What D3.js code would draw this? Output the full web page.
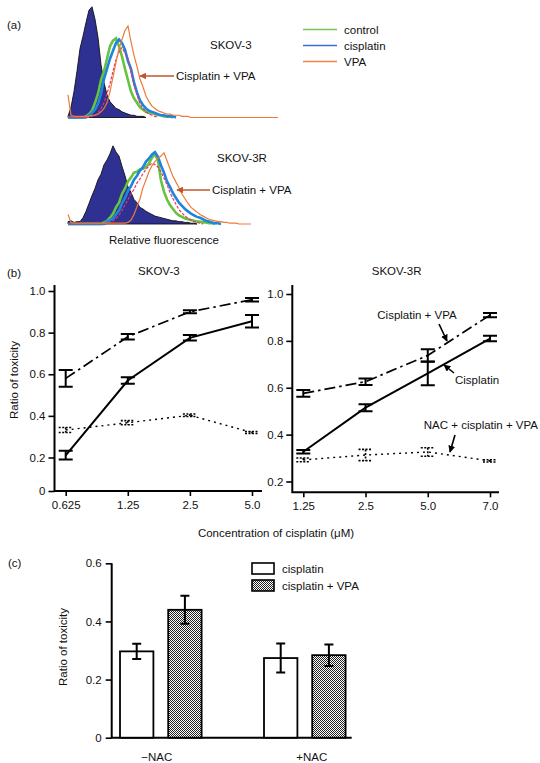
<!DOCTYPE html>
<html><head><meta charset="utf-8">
<script src="https://cdn.jsdelivr.net/npm/d3@7"></script>
<style>
body{margin:0;background:#fff}
svg{display:block}
text{font-family:"Liberation Sans",Arial,sans-serif;font-size:11.5px;fill:#111}
</style>
</head><body>
<svg id="fig" width="540" height="763"></svg>
<script>
// ---------------- DATA ----------------
// (a) flow cytometry histograms: counts per fluorescence channel (relative units)
const histTopUnstained = [1,9,23,41,61,72,84,95,98,87,71,47,31,20,14,11,8,7,5,4,3,2,2,1,1,1,0];
const histTopControl   = [0,0,0,0,0,0,1,3,6,13,21,33,41,52,63,68,70,63,54,43,33,23,17,13,9,7,5,4,4,3,2,2,1,1,1,0];
const histTopCisplatin = [0,0,0,0,0,0,0,2,4,7,12,21,34,43,52,59,66,69,66,60,50,43,31,22,15,11,8,6,5,4,3,2,2,1,1,1,0];
const histTopCisVPA    = [0,0,0,0,0,0,0,0,1,2,4,8,13,21,30,41,51,58,62,57,52,40,29,20,12,8,5,3,2,1,0];
const histTopVPA       = [20,2,1,1,1,1,1,1,2,2,3,5,8,13,23,36,49,61,69,77,81,67,55,45,34,27,19,14,10,8,6,5,4,3,3,2,2,2,1,1,1,
                          0,0,0,0,0,0,0,0,0,0,0,0,0,0,0,0,0,0,0,0,0,0,0,0,0,0,0,0,0,0];
const histBotUnstained = [3,4,2,3,3,8,16,26,36,45,56,63,75,81,89,99,91,86,73,61,47,40,31,27,21,19,16,14,12,10,9,8,7,6,5,4,4,3,3,2,2,1,1,0];
const histBotControl   = [0,0,0,0,0,0,0,0,0,0,0,0,2,4,8,13,21,27,38,45,54,59,65,66,69,70,72,77,84,89,80,55,41,31,24,19,14,11,9,7,6,5,4,3,3,2,2,1,1,0];
const histBotCisplatin = [0,0,0,0,0,0,0,0,0,0,0,0,0,3,5,7,12,17,26,33,42,48,56,61,68,72,79,83,88,91,85,74,65,54,47,39,33,27,23,19,16,13,11,9,8,6,4,3,2,1,1,0];
const histBotCisVPA    = [0,0,0,0,0,0,0,0,0,0,0,0,0,0,2,4,7,11,17,24,31,38,44,52,57,64,69,74,77,75,72,66,58,50,40,32,25,18,14,10,7,5,3,2,1,0];
const histBotVPA       = [12,2,1,1,1,1,1,1,1,1,1,1,1,1,1,1,1,1,1,1,2,5,12,22,32,46,56,66,74,79,83,86,90,80,70,60,53,46,38,32,26,21,18,15,12,10,8,6,5,4,3,3,2,2,1,1,1,0,0,0,0,0];
const legendA = ["control","cisplatin","VPA"];

// (b) ratio of toxicity vs cisplatin concentration
const concSKOV3  = ["0.625","1.25","2.5","5.0"];
const concSKOV3R = ["1.25","2.5","5.0","7.0"];
const s3Cis      = [0.21,0.57,0.775,0.855];
const s3CisErr   = [0.022,0.016,0.013,0.03];
const s3CisVPA   = [0.58,0.78,0.90,0.958];
const s3CisVPAErr= [0.04,0.013,0.007,0.008];
const s3NAC      = [0.332,0.367,0.403,0.32];
const s3NACErr   = [0.012,0.01,0.006,0.005];
const s3rCis      = [0.327,0.515,0.661,0.81];
const s3rCisErr   = [0.007,0.015,0.05,0.012];
const s3rCisVPA   = [0.576,0.626,0.738,0.91];
const s3rCisVPAErr= [0.014,0.014,0.026,0.009];
const s3rNAC      = [0.292,0.313,0.326,0.288];
const s3rNACErr   = [0.008,0.024,0.018,0.005];
const ticksB = [0,0.2,0.4,0.6,0.8,1.0];

// (c) bars
const groupsC = ["\u2212NAC","+NAC"];
const seriesC = ["cisplatin","cisplatin + VPA"];
const barCis    = [0.297,0.274];
const barCisErr = [0.026,0.05];
const barVPA    = [0.44,0.284];
const barVPAErr = [0.048,0.037];
const ticksC = [0,0.2,0.4,0.6];

// ---------------- DRAW ----------------
const svg = d3.select("#fig");
const defs = svg.append("defs");
function arrowMarker(id,color){
  defs.append("marker").attr("id",id).attr("viewBox","0 0 10 10").attr("refX",9).attr("refY",5)
    .attr("markerWidth",7).attr("markerHeight",7).attr("markerUnits","userSpaceOnUse").attr("orient","auto")
    .append("path").attr("d","M0,0L10,5L0,10z").attr("fill",color);
}
arrowMarker("arB","#000");
arrowMarker("arO","#c0562f");
const pat = defs.append("pattern").attr("id","checker").attr("width",2).attr("height",2).attr("patternUnits","userSpaceOnUse");
pat.append("rect").attr("width",2).attr("height",2).attr("fill","#fff");
pat.append("rect").attr("width",1).attr("height",1).attr("fill","#222");
pat.append("rect").attr("x",1).attr("y",1).attr("width",1).attr("height",1).attr("fill","#222");

function txt(x,y,s,anchor,extra){
  const t = svg.append("text").attr("x",x).attr("y",y).attr("dy","0.35em").attr("text-anchor",anchor||"start").text(s);
  return t;
}

// ---- (a) ----
const chX = d3.scaleLinear().domain([0,70]).range([68,278]);
const colors = {unst:"#2e3192", control:"#66c23f", cis:"#1f84dc", cisvpa:"#e8336a", vpa:"#ef7a35"};
function histogram(base, peak, data){
  const y = d3.scaleLinear().domain([0,100]).range([base,peak]);
  const line = d3.line().x((d,i)=>chX(i)).y(d=>y(d));
  const area = d3.area().x((d,i)=>chX(i)).y0(base).y1(d=>y(d));
  svg.append("path").attr("d",area(data.unst)).attr("fill",colors.unst).attr("stroke","#111").attr("stroke-width",0.9);
  svg.append("path").attr("d",line(data.control)).attr("fill","none").attr("stroke",colors.control).attr("stroke-width",2.6);
  svg.append("path").attr("d",line(data.cis)).attr("fill","none").attr("stroke",colors.cis).attr("stroke-width",2.6);
  svg.append("path").attr("d",line(data.cisvpa)).attr("fill","none").attr("stroke",colors.cisvpa).attr("stroke-width",1.2).attr("stroke-dasharray","3,1.5");
  svg.append("path").attr("d",line(data.vpa)).attr("fill","none").attr("stroke",colors.vpa).attr("stroke-width",1.2);
}
histogram(117.5, 4.5, {unst:histTopUnstained, control:histTopControl, cis:histTopCisplatin, cisvpa:histTopCisVPA, vpa:histTopVPA});
histogram(224, 145, {unst:histBotUnstained, control:histBotControl, cis:histBotCisplatin, cisvpa:histBotCisVPA, vpa:histBotVPA});

txt(7,25,"(a)");
txt(210,45,"SKOV-3");
txt(176,76,"Cisplatin + VPA");
svg.append("line").attr("x1",174).attr("y1",76).attr("x2",140).attr("y2",76).attr("stroke","#c0562f").attr("stroke-width",1.4).attr("marker-end","url(#arO)");
txt(217,158,"SKOV-3R");
txt(212,190,"Cisplatin + VPA");
svg.append("line").attr("x1",210).attr("y1",190).attr("x2",177).attr("y2",190).attr("stroke","#c0562f").attr("stroke-width",1.4).attr("marker-end","url(#arO)");
txt(164,240,"Relative fluorescence","middle");

const legY = d3.scalePoint().domain(legendA).range([29.5,61.5]);
const legC = {control:"#7cc353", cisplatin:"#3a6fd0", VPA:"#f0854a"};
legendA.forEach(k=>{
  svg.append("line").attr("x1",303).attr("x2",337).attr("y1",legY(k)).attr("y2",legY(k)).attr("stroke",legC[k]).attr("stroke-width",1.6);
  txt(344,legY(k),k);
});

// ---- (b) ----
txt(7,273,"(b)");
function panelB(o){
  const x = d3.scalePoint().domain(o.cats).range(o.xr);
  const y = o.y;
  // axes
  const gy = svg.append("g").attr("transform",`translate(${o.ax},0)`)
    .call(d3.axisLeft(y).tickValues(o.ticks).tickFormat(d=>d===0?"0":d3.format(".1f")(d)).tickSize(6).tickPadding(3).tickSizeOuter(0));
  gy.select(".domain").remove();
  const gx = svg.append("g").attr("transform",`translate(0,${o.axB})`)
    .call(d3.axisBottom(x).tickSize(5).tickPadding(5).tickSizeOuter(0));
  gx.select(".domain").remove();
  [gy,gx].forEach(g=>{
    g.selectAll("line").attr("stroke","#000").attr("stroke-width",1.6);
    g.selectAll("text").style("font-size","11.5px").attr("fill","#111").style("font-family","'Liberation Sans',Arial,sans-serif");
  });
  svg.append("path").attr("d",`M${o.ax},${o.axT}V${o.axB}H${o.axR}`).attr("fill","none").attr("stroke","#000").attr("stroke-width",2);
  const line = d3.line().x((d,i)=>x(o.cats[i])).y(d=>y(d));
  const series = [
    {v:o.nac, e:o.nacE, dash:"2,4", w:1.4, ew:1.6, edash:"2,1.5"},
    {v:o.cis, e:o.cisE, dash:null, w:2, ew:2, edash:null},
    {v:o.vpa, e:o.vpaE, dash:"11,4,2.5,4", w:1.7, ew:2, edash:null}
  ];
  series.forEach(s=>{
    svg.append("path").attr("d",line(s.v)).attr("fill","none").attr("stroke","#000").attr("stroke-width",s.w).attr("stroke-dasharray",s.dash);
    s.v.forEach((v,i)=>{
      const cx = x(o.cats[i]), yt = y(v+s.e[i]), yb = y(v-s.e[i]);
      const p = `M${cx},${yt}V${yb}M${cx-7},${yt}H${cx+7}M${cx-7},${yb}H${cx+7}`;
      svg.append("path").attr("d",p).attr("fill","none").attr("stroke","#000").attr("stroke-width",s.ew).attr("stroke-dasharray",s.edash);
    });
  });
  txt((o.xr[0]+o.xr[1])/2, 271, o.title, "middle");
}
panelB({cats:concSKOV3, xr:[65.7,252], ax:54.5, axT:285, axB:491, axR:262,
  y:d3.scaleLinear().domain([0,0.2,1.0]).range([491,457.5,291]), ticks:ticksB,
  cis:s3Cis, cisE:s3CisErr, vpa:s3CisVPA, vpaE:s3CisVPAErr, nac:s3NAC, nacE:s3NACErr, title:"SKOV-3"});
panelB({cats:concSKOV3R, xr:[303.3,490], ax:292.3, axT:285, axB:492.3, axR:499,
  y:d3.scaleLinear().domain([0.2,1.0]).range([481.5,294]), ticks:ticksB.slice(1),
  cis:s3rCis, cisE:s3rCisErr, vpa:s3rCisVPA, vpaE:s3rCisVPAErr, nac:s3rNAC, nacE:s3rNACErr, title:"SKOV-3R"});

svg.append("text").attr("transform","translate(14,380) rotate(-90)").attr("text-anchor","middle").attr("dy","0.35em").text("Ratio of toxicity");
txt(276,533,"Concentration of cisplatin (\u03bcM)","middle");

txt(417,315,"Cisplatin + VPA","middle");
svg.append("line").attr("x1",439).attr("y1",324).attr("x2",447).attr("y2",341).attr("stroke","#000").attr("stroke-width",1.6).attr("marker-end","url(#arB)");
txt(455,380,"Cisplatin");
svg.append("line").attr("x1",454).attr("y1",373).attr("x2",444).attr("y2",365).attr("stroke","#000").attr("stroke-width",1.6).attr("marker-end","url(#arB)");
txt(538,425,"NAC + cisplatin + VPA","end");
svg.append("line").attr("x1",455).attr("y1",435).attr("x2",450).attr("y2",452).attr("stroke","#000").attr("stroke-width",1.6).attr("marker-end","url(#arB)");

// ---- (c) ----
txt(8,563,"(c)");
const yC = d3.scaleLinear().domain([0,0.6]).range([737.7,563.3]);
const xG = d3.scalePoint().domain(groupsC).range([160.8,304.8]);
const xS = d3.scaleBand().domain(seriesC).range([-40.8,40.8]).paddingInner(0.307);
const gyc = svg.append("g").attr("transform","translate(111.7,0)")
  .call(d3.axisLeft(yC).tickValues(ticksC).tickFormat(d=>d===0?"0":d3.format(".1f")(d)).tickSize(6).tickPadding(4).tickSizeOuter(0));
gyc.select(".domain").remove();
gyc.selectAll("line").attr("stroke","#000").attr("stroke-width",1.6);
gyc.selectAll("text").style("font-size","11.5px").attr("fill","#111").style("font-family","'Liberation Sans',Arial,sans-serif");
svg.append("path").attr("d",`M111.7,${yC(0.6)}V${yC(0)}H351.7`).attr("fill","none").attr("stroke","#000").attr("stroke-width",2);
const barData = [[barCis,barCisErr,"#fff"],[barVPA,barVPAErr,"url(#checker)"]];
groupsC.forEach((g,gi)=>{
  seriesC.forEach((s,si)=>{
    const [vals,errs,fill] = barData[si];
    const x0 = xG(g)+xS(s), w = xS.bandwidth(), v = vals[gi], e = errs[gi];
    svg.append("rect").attr("x",x0).attr("y",yC(v)).attr("width",w).attr("height",yC(0)-yC(v))
      .attr("fill",fill).attr("stroke","#000").attr("stroke-width",1.8);
    const cx = x0+w/2, yt=yC(v+e), yb=yC(v-e);
    svg.append("path").attr("d",`M${cx},${yt}V${yb}M${cx-4.5},${yt}H${cx+4.5}M${cx-4.5},${yb}H${cx+4.5}`)
      .attr("fill","none").attr("stroke","#000").attr("stroke-width",2);
  });
});
const labShift = [-4,7];
groupsC.forEach((g,gi)=>txt(xG(g)+labShift[gi],757,g,"middle"));
svg.append("text").attr("transform","translate(63,647) rotate(-90)").attr("text-anchor","middle").attr("dy","0.35em").text("Ratio of toxicity");
const legCY = d3.scalePoint().domain(seriesC).range([568.5,585.5]);
seriesC.forEach((s,si)=>{
  svg.append("rect").attr("x",252).attr("y",legCY(s)-5.5).attr("width",22).attr("height",11)
    .attr("fill",barData[si][2]).attr("stroke","#000").attr("stroke-width",1.6);
  txt(282,legCY(s),s);
});
</script>
</body></html>
